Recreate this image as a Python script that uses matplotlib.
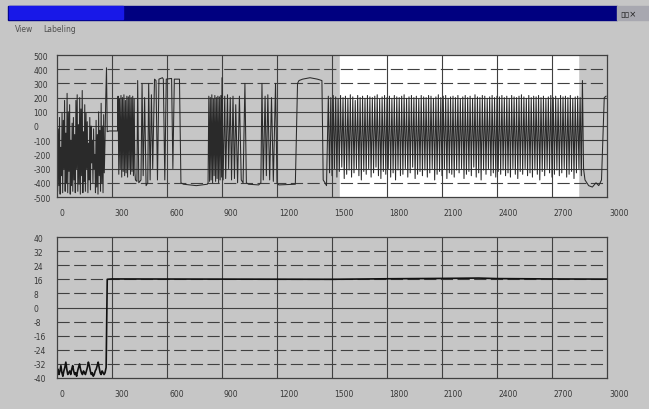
import numpy as np
import matplotlib.pyplot as plt
from matplotlib.patches import Rectangle
import matplotlib.transforms as mtransforms

plt.rcParams["axes.unicode_minus"] = False

# ---- datos ----
x_ticks = [0, 300, 600, 900, 1200, 1500, 1800, 2100, 2400, 2700, 3000]
top_yticks = [500, 400, 300, 200, 100, 0, -100, -200, -300, -400, -500]
bot_yticks = [40, 32, 24, 16, 8, 0, -8, -16, -24, -32, -40]

# zona ruidosa inicial (0-262)
top_start_vals = [-80, -460, -20, -420, 60, -480, -150, -350, 90, -470, 40, -300, 180, -460, -50,
                  -400, 230, -470, 100, -320, 150, -480, -100, -420, 20, -460, 60, -380, -60, -470,
                  180, -300, 220, -460, 10, -410, 200, -480, 120, -350, 250, -470, -40, -390, 150,
                  -460, 90, -300, 30, -470, -120, -380, 60, -450, 0, -260, -100, -400, -20, -300,
                  -200, -470, 40, -430, -60, -480, 100, -350, -30, -460, 160, -400, 0, -470, 80, -330]
# bloque 333-425
top_block1_vals = [210, -340, 190, -300, 215, -360, 200, -320, 220, -350, 180, -330, 210, -360,
                   205, -300, 215, -340, 200, -320, 210, -350, 190, -330]
# bloque 824-900
top_block2_vals = [-400, 210, -390, 200, -380, 220, -400, 190, -350, 215, -390, 200, -370, 210, -400,
                   205, -380, 215, -360]
# bloque largo 1480-2860
top_block3_vals = [210, -330, 200, -350, 215, -300, 205, -360, 190, -320, 215, -290, 200, -370, 210, -340,
                   195, -310, 220, -360, 205, -330, 180, -300, 215, -350, 200, -380, 210, -320, 195, -340,
                   215, -300, 205, -360, 200, -330, 210, -290, 220, -350, 190, -370, 205, -320, 215, -340,
                   200, -300, 210, -360, 195, -330, 215, -380, 205, -310, 200, -350, 210, -340, 220, -300,
                   195, -360, 205, -330, 215, -290, 200, -370, 210, -340, 190, -320, 215, -350, 205, -310,
                   200, -360, 215, -330, 210, -300, 195, -380, 205, -340, 220, -320, 200, -350, 210, -300,
                   215, -370, 195, -330, 205, -340, 210, -360, 200, -310, 215, -330, 190, -300, 205, -370,
                   215, -340, 200, -320, 210, -350, 195, -290, 220, -360, 205, -330, 200, -380, 215, -310,
                   210, -340, 195, -300, 205, -350, 215, -330, 200, -360, 210, -320, 205, -340, 215, -310,
                   200, -350, 210, -330, 195, -360, 215, -300, 205, -340, 200, -370, 210, -320, 220, -340,
                   205, -300, 195, -350, 215, -330, 200, -360, 210, -310, 205, -340, 215, -380, 200, -320,
                   210, -350, 195, -300, 205, -330, 215, -360, 200, -340, 210, -310, 190, -350, 215, -330,
                   205, -300, 210, -360, 200, -340, 215, -320, 195, -370, 205, -330, 210, -300, 200, -350]

# tramos sueltos (tiempo, valor)
top_mid1_t = [262, 266, 270, 274, 285, 330]
top_mid1_v = [-100, 200, 410, -40, -35, -35]
top_mid2_t = [428, 436, 440, 446, 458, 464, 470, 478, 486, 495, 500, 508, 515, 522, 532, 540, 548, 556,
              575, 580, 588, 596, 625, 632, 640, 668, 676, 690, 760, 820]
top_mid2_v = [-380, -390, 320, -400, -380, 300, -350, 200, -420, -400, 300, -380, 220, -300, 330, 320,
              -380, 330, 340, 330, -380, 330, 335, -300, 330, 330, -400, -410, -420, -410]
top_mid3_t = [900, 906, 915, 920, 930, 936, 945, 952, 960, 968, 975, 985, 995, 1005, 1015, 1025, 1033,
              1045, 1100, 1112, 1118, 1125, 1135, 1142, 1150, 1160, 1170, 1180, 1192, 1200, 1210, 1300,
              1312, 1320, 1340, 1380, 1420, 1445, 1452, 1462, 1470]
top_mid3_v = [340, -380, 210, -370, 220, -300, 200, -380, 210, -370, 150, -400, 210, -380, -400, 300, -400,
              -410, -415, -400, 300, -380, 210, -350, 220, -380, 200, -390, 300, -400, -415, -410,
              300, 320, 330, 340, 330, 320, -380, -400, -420]
top_end_t = [2866, 2872, 2880, 2900, 2920, 2940, 2955, 2970, 2985, 2995]
top_end_v = [320, -300, -380, -420, -430, -400, -420, -380, 200, 210]

# serie inferior
bot_start_vals = [-37, -35, -38, -36, -33, -37, -39, -36, -34, -31, -35, -38, -37, -36, -38, -35, -33,
                  -36, -38, -37, -39, -36, -34, -32, -35, -37, -38, -36, -37, -38, -36, -34, -31, -33,
                  -36, -38, -37, -39, -38, -36, -35, -33, -31, -34, -37, -38, -36, -37, -38, -37]
bot_rest_t = [268, 274, 300, 1500, 1800, 2100, 2300, 2400, 2700, 3000]
bot_rest_v = [-34, 16, 16.2, 16, 16.3, 16.5, 16.7, 16.4, 16.2, 16.1]

# ---- armar las series ----
top_t = np.concatenate([np.linspace(0, 258, len(top_start_vals)), top_mid1_t,
                        np.linspace(333, 425, len(top_block1_vals)), top_mid2_t,
                        np.linspace(824, 898, len(top_block2_vals)), top_mid3_t,
                        np.linspace(1480, 2860, len(top_block3_vals)), top_end_t])
top_v = np.concatenate([top_start_vals, top_mid1_v, top_block1_vals, top_mid2_v,
                        top_block2_vals, top_mid3_v, top_block3_vals, top_end_v])
bot_t = np.concatenate([np.linspace(0, 262, len(bot_start_vals)), bot_rest_t])
bot_v = np.concatenate([bot_start_vals, bot_rest_v])

# ---- figura ----
W, H = 649, 410
bg = "#c6c6c6"
fig = plt.figure(figsize=(W / 100, H / 100), dpi=100, facecolor=bg)


def px(x0, y0, x1, y1):
    # rectangulo en pixeles -> fracciones de figura
    return [x0 / W, 1 - y1 / H, (x1 - x0) / W, (y1 - y0) / H]


# barra de titulo y menu
tb = px(8, 7, 617, 21)
fig.patches.append(Rectangle(tb[:2], tb[2], tb[3], transform=fig.transFigure, color="#000080"))
lb = px(9, 7, 123, 20)
fig.patches.append(Rectangle(lb[:2], lb[2], lb[3], transform=fig.transFigure, color="#1818e8"))
bb = px(617, 7, 649, 21)
fig.patches.append(Rectangle(bb[:2], bb[2], bb[3], transform=fig.transFigure, color="#a8a8b0"))
fig.text(620 / W, 1 - 14 / H, "▯▯×", fontsize=6, color="#202020", va="center")
fig.text(15 / W, 1 - 30 / H, "View", fontsize=5.5, color="#505050", va="center")
fig.text(43 / W, 1 - 30 / H, "Labeling", fontsize=5.5, color="#505050", va="center")

grid_c = "#404040"
lab_c = "#383838"
shift = mtransforms.ScaledTranslation(2 / 100, 0, fig.dpi_scale_trans)


def setup(ax, yticks, ylim, solid_rows):
    ax.set_facecolor(bg)
    ax.set_xlim(0, 3000)
    ax.set_ylim(*ylim)
    ax.set_xticks(x_ticks)
    ax.set_yticks(yticks)
    ax.tick_params(length=0, labelsize=5.5, labelcolor=lab_c)
    ax.tick_params(axis="y", pad=17)
    ax.tick_params(axis="x", pad=8)
    for lab in ax.get_yticklabels():
        lab.set_horizontalalignment("left")
    for lab in ax.get_xticklabels():
        lab.set_horizontalalignment("left")
        lab.set_transform(lab.get_transform() + shift)
    for s in ax.spines.values():
        s.set_color(grid_c)
        s.set_linewidth(0.9)
    for xv in x_ticks[1:-1]:
        ax.axvline(xv, color=grid_c, lw=0.8, zorder=1)
    for yv in yticks[1:-1]:
        if yv in solid_rows:
            ax.axhline(yv, color=grid_c, lw=0.8, zorder=1)
        else:
            ax.axhline(yv, color=grid_c, lw=0.8, dashes=(11, 4), zorder=1)


# grafica superior
ax1 = fig.add_axes(px(57, 56, 607, 198))
setup(ax1, top_yticks, (-500, 500), [200, 100, 0, -100, -200, -300])
ax1.axvspan(1545, 2840, color="white", zorder=0)
ax1.plot(top_t, top_v, color="#2a2a2a", lw=0.75, zorder=2)

# grafica inferior
ax2 = fig.add_axes(px(57, 238, 607, 379))
setup(ax2, bot_yticks, (-40, 40), [0])
ax2.plot(bot_t, bot_v, color="#111111", lw=1.2, zorder=2)

plt.savefig("out.png", dpi=100, facecolor=bg)
